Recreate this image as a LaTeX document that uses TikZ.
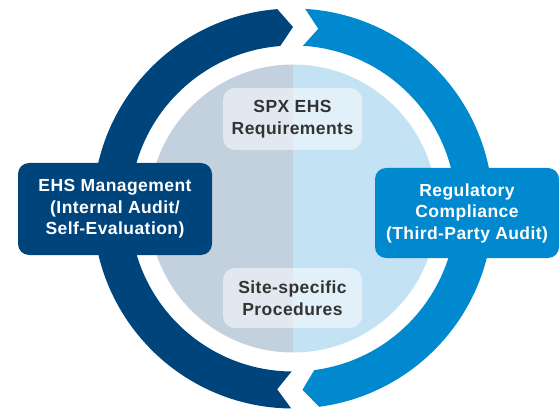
\documentclass[tikz,border=0pt]{standalone}
\usepackage{fontspec}
\setmainfont{Liberation Sans}
\newfontfamily\ringfont{Liberation Sans}[LetterSpace=2.5]
\usetikzlibrary{positioning}
\definecolor{navyring}{RGB}{0,68,124}
\definecolor{skyring}{RGB}{0,137,206}
\definecolor{paneleft}{RGB}{195,209,223}
\definecolor{paneright}{RGB}{195,226,243}
\definecolor{inktext}{RGB}{51,51,51}
\begin{document}
\begin{tikzpicture}[x=1pt,y=1pt,
		cyclebox/.style={rounded corners=11pt, align=center, inner sep=0pt, text=white,
			font=\ringfont\bfseries\fontsize{17.5}{21.5}\selectfont},
		stagebox/.style={rounded corners=12pt, align=center, inner sep=0pt, text=inktext,
			fill=white, fill opacity=0.5, text opacity=1,
			minimum width=139pt, font=\ringfont\bfseries\fontsize{17.5}{21.5}\selectfont}]
				\useasboundingbox (0,0) rectangle (559,410);
				\begin{scope}[shift={(293,201.5)}]
				\fill[paneleft] (90:144pt) arc[start angle=90,end angle=270,radius=144pt] -- cycle;
				\fill[paneright] (90:144pt) arc[start angle=90,end angle=-90,radius=144pt] -- cycle;
				\fill[navyring] (269.5:200pt) arc[start angle=269.5,end angle=94.5,radius=200pt]
					-- (90:181.5pt) -- (94.5:163pt) arc[start angle=94.5,end angle=269.5,radius=163pt]
					-- (265:181.5pt) -- cycle;
				\fill[skyring] (86.5:200pt) arc[start angle=86.5,end angle=-82.5,radius=200pt]
					-- (-87:181.5pt) -- (-82.5:163pt) arc[start angle=-82.5,end angle=86.5,radius=163pt]
					-- (82:181.5pt) -- cycle;
				\end{scope}
				\node[cyclebox, fill=navyring, minimum width=194pt, minimum height=92pt] (mgmt) at (115,201)
					{EHS Management\\(Internal Audit/\\Self-Evaluation)};
				\node[cyclebox, fill=skyring, minimum width=184pt, minimum height=90pt] (regcomp) at (467,197)
					{Regulatory\\Compliance\\(Third-Party Audit)};
				\node[stagebox, minimum height=62pt] (spxreq) at (292.5,291) {SPX EHS\\Requirements};
				\node[stagebox, minimum height=60pt] (siteproc) at (292.5,112) {Site-specific\\Procedures};
			\end{tikzpicture}
\end{document}
